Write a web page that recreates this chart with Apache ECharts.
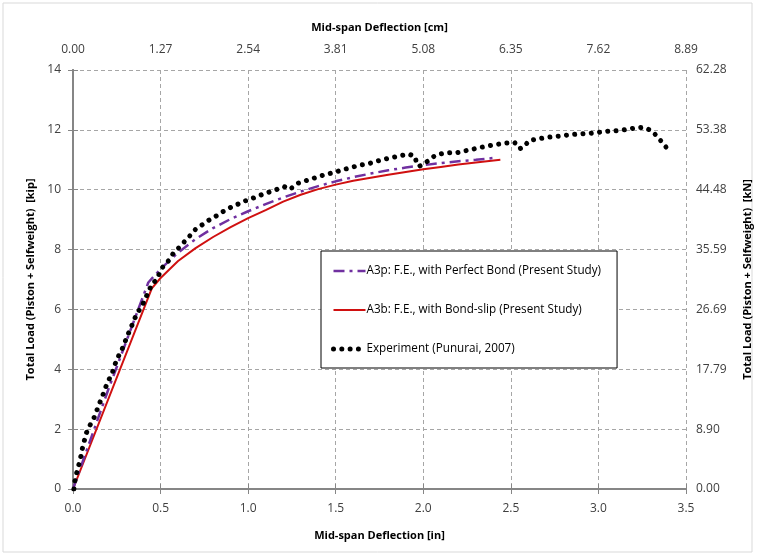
<!DOCTYPE html>
<html>
<head>
<meta charset="utf-8">
<script src="https://cdn.jsdelivr.net/npm/echarts@6/dist/echarts.min.js"></script>
<style>
  html, body { margin: 0; padding: 0; background: #fff; }
  #main { width: 760px; height: 556px; }
</style>
</head>
<body>
<div id="main"></div>
<script>
// deflection [in], load [kip]
var perfectX = [0, 0.2, 0.43, 0.5, 0.6, 0.7, 0.8, 0.9, 1.0, 1.1, 1.2, 1.3, 1.4, 1.5, 1.6, 1.7, 1.8, 1.9, 2.0, 2.1, 2.2, 2.3, 2.4];
var perfectY = [0, 3.3, 6.9, 7.35, 7.9, 8.35, 8.72, 9.02, 9.28, 9.52, 9.74, 9.94, 10.12, 10.28, 10.42, 10.54, 10.65, 10.74, 10.82, 10.89, 10.95, 11.0, 11.06];

var slipX = [0, 0.45, 0.5, 0.6, 0.7, 0.8, 0.9, 1.0, 1.1, 1.2, 1.3, 1.4, 1.5, 1.6, 1.7, 1.8, 1.9, 2.0, 2.1, 2.2, 2.3, 2.44];
var slipY = [0, 6.7, 7.05, 7.62, 8.05, 8.42, 8.75, 9.05, 9.32, 9.6, 9.83, 10.02, 10.17, 10.3, 10.4, 10.5, 10.59, 10.68, 10.76, 10.84, 10.91, 11.0];

var expX = [0.005, 0.011, 0.021, 0.033, 0.044, 0.053, 0.064, 0.076, 0.097, 0.12, 0.137, 0.154, 0.171, 0.187, 0.205, 0.226, 0.24, 0.258, 0.28, 0.297, 0.315, 0.335, 0.35, 0.369, 0.398, 0.415, 0.434, 0.452, 0.477, 0.506, 0.549, 0.572, 0.606, 0.667, 0.7, 0.74, 0.778, 0.82, 0.857, 0.901, 0.943, 0.985, 1.033, 1.076, 1.12, 1.164, 1.208, 1.238, 1.28, 1.323, 1.367, 1.413, 1.459, 1.504, 1.548, 1.593, 1.639, 1.687, 1.732, 1.78, 1.825, 1.871, 1.917, 1.955, 1.961, 1.979, 1.998, 2.029, 2.072, 2.118, 2.164, 2.194, 2.24, 2.288, 2.333, 2.379, 2.426, 2.474, 2.521, 2.55, 2.574, 2.603, 2.651, 2.698, 2.746, 2.793, 2.839, 2.886, 2.934, 2.982, 3.025, 3.073, 3.12, 3.168, 3.216, 3.259, 3.305, 3.335, 3.366, 3.396];
var expY = [0.0, 0.27, 0.54, 0.8, 1.07, 1.34, 1.6, 1.87, 2.13, 2.38, 2.64, 2.9, 3.15, 3.41, 3.65, 3.91, 4.17, 4.42, 4.67, 4.92, 5.18, 5.45, 5.67, 5.89, 6.17, 6.39, 6.63, 6.87, 6.98, 7.37, 7.65, 7.87, 8.07, 8.46, 8.68, 8.84, 8.99, 9.13, 9.27, 9.41, 9.52, 9.63, 9.73, 9.83, 9.92, 10.01, 10.1, 10.01, 10.21, 10.29, 10.37, 10.46, 10.53, 10.6, 10.68, 10.75, 10.82, 10.87, 10.95, 11.02, 11.08, 11.14, 11.19, 11.1, 10.85, 10.79, 10.85, 10.97, 11.16, 11.22, 11.24, 11.24, 11.3, 11.36, 11.42, 11.47, 11.52, 11.56, 11.58, 11.37, 11.42, 11.64, 11.69, 11.74, 11.78, 11.8, 11.84, 11.86, 11.88, 11.9, 11.94, 11.96, 11.98, 12.02, 12.07, 12.08, 11.97, 11.78, 11.57, 11.35];

var seriesNames = [
  'A3p: F.E., with Perfect Bond (Present Study)',
  'A3b: F.E., with Bond-slip (Present Study)',
  'Experiment (Punurai, 2007)'
];

function pairs(xs, ys) {
  return xs.map(function (x, i) { return [x, ys[i]]; });
}

var font = 'Open Sans';
var axisGray = '#868686';
var labelStyle = { color: '#404040', fontSize: 12, fontFamily: font };
var nameStyle = { color: '#000', fontSize: 11, fontWeight: 'bold', fontFamily: font };
var gridLine = { show: true, lineStyle: { color: '#a6a6a6', type: [4, 3], width: 1 } };

var chart = echarts.init(document.getElementById('main'));

var option = {
  backgroundColor: '#fff',
  animation: false,
  graphic: [{
    type: 'rect',
    shape: { x: 3, y: 3, width: 749, height: 549 },
    style: { fill: 'none', stroke: '#d9d9d9', lineWidth: 1 },
    silent: true
  }],
  grid: { left: 73, right: 74, top: 70, bottom: 67, outerBoundsMode: 'none', containLabel: false },
  legend: {
    orient: 'vertical',
    left: 321,
    top: 251,
    padding: [14, 16, 13, 10],
    itemGap: 27,
    itemWidth: 32,
    itemHeight: 14,
    backgroundColor: '#fff',
    borderColor: '#000',
    borderWidth: 1,
    borderRadius: 0,
    itemStyle: { opacity: 0, color: 'rgba(0,0,0,0)', borderWidth: 0 },
    lineStyle: { width: 'inherit' },
    textStyle: { color: '#000', fontSize: 11.7, fontFamily: font, padding: [0, 0, 0, -4] },
    data: seriesNames
  },
  xAxis: [{
    type: 'value',
    position: 'bottom',
    min: 0, max: 3.5, interval: 0.5,
    name: 'Mid-span Deflection [in]',
    nameLocation: 'middle',
    nameGap: 41,
    nameTextStyle: nameStyle,
    axisLine: { lineStyle: { color: axisGray, width: 2 } },
    axisTick: { show: true, inside: false, length: 5, lineStyle: { color: axisGray } },
    axisLabel: Object.assign({ margin: 14, formatter: function (v) { return v.toFixed(1); } }, labelStyle),
    splitLine: gridLine
  }, {
    type: 'value',
    position: 'top',
    min: 0, max: 3.5, interval: 0.5,
    name: 'Mid-span Deflection [cm]',
    nameLocation: 'middle',
    nameGap: 37,
    nameTextStyle: nameStyle,
    axisLine: { lineStyle: { color: axisGray, width: 2 } },
    axisTick: { show: true, length: 5, lineStyle: { color: axisGray } },
    axisLabel: Object.assign({ margin: 14, formatter: function (v) { return (v * 2.54).toFixed(2); } }, labelStyle),
    splitLine: { show: false }
  }],
  yAxis: [{
    type: 'value',
    position: 'left',
    min: 0, max: 14, interval: 2,
    name: 'Total Load (Piston + Selfweight)  [kip]',
    nameLocation: 'middle',
    nameGap: 35,
    nameRotate: 90,
    nameTextStyle: nameStyle,
    axisLine: { show: true, lineStyle: { color: axisGray, width: 2 } },
    axisTick: { show: true, length: 5, lineStyle: { color: axisGray } },
    axisLabel: Object.assign({ margin: 12 }, labelStyle),
    splitLine: gridLine
  }, {
    type: 'value',
    position: 'right',
    min: 0, max: 14, interval: 2,
    name: 'Total Load (Piston + Selfweight)  [kN]',
    nameLocation: 'middle',
    nameGap: 56,
    nameRotate: 90,
    nameTextStyle: nameStyle,
    axisLine: { show: true, lineStyle: { color: axisGray, width: 2 } },
    axisTick: { show: true, length: 5, lineStyle: { color: axisGray } },
    axisLabel: Object.assign({ margin: 10, formatter: function (v) { return (v * 4.44822).toFixed(2); } }, labelStyle),
    splitLine: { show: false }
  }],
  series: [{
    name: seriesNames[0],
    type: 'line',
    xAxisIndex: 0, yAxisIndex: 0,
    showSymbol: false,
    symbol: 'none',
    lineStyle: { color: '#7030a0', width: 2.5, type: [11, 5, 3, 5] },
    itemStyle: { color: '#7030a0' },
    data: pairs(perfectX, perfectY),
    z: 3
  }, {
    name: seriesNames[1],
    type: 'line',
    xAxisIndex: 0, yAxisIndex: 0,
    showSymbol: false,
    symbol: 'none',
    lineStyle: { color: '#d01010', width: 2 },
    itemStyle: { color: '#d01010' },
    data: pairs(slipX, slipY),
    z: 2
  }, {
    name: seriesNames[2],
    type: 'line',
    xAxisIndex: 0, yAxisIndex: 0,
    showSymbol: false,
    symbol: 'none',
    lineStyle: { color: '#000', width: 5, type: [0.01, 8.3], cap: 'round' },
    itemStyle: { color: '#000' },
    data: pairs(expX, expY),
    z: 4
  }]
};

chart.setOption(option);
</script>
</body>
</html>
